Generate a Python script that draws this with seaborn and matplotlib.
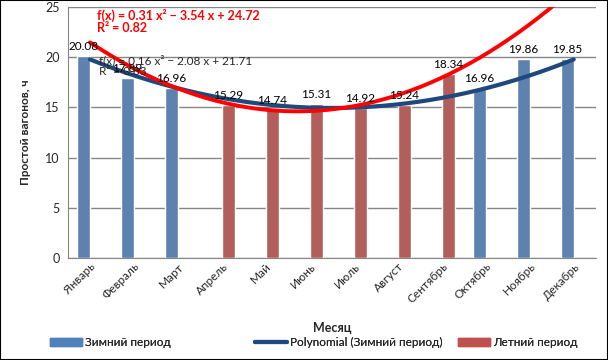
import numpy as np
import pandas as pd
import matplotlib
matplotlib.use("Agg")
import matplotlib.pyplot as plt
import seaborn as sns
from matplotlib.patches import Patch, Rectangle
from matplotlib.lines import Line2D

months = ["Январь", "Февраль", "Март", "Апрель", "Май", "Июнь",
          "Июль", "Август", "Сентябрь", "Октябрь", "Ноябрь", "Декабрь"]
values = [20.08, 17.89, 16.96, 15.29, 14.74, 15.31,
          14.92, 15.24, 18.34, 16.96, 19.86, 19.85]
periods = ["Зимний период"] * 3 + ["Летний период"] * 6 + ["Зимний период"] * 3
period_order = ["Зимний период", "Летний период"]

# trendline coefficients as shown on the chart
winter_coef = [0.16, -2.08, 21.71]
summer_coef = [0.31, -3.54, 24.72]

if __name__ == "__main__":
    sns.set_style("white")
    plt.rcParams['font.family'] = ['Lato', 'DejaVu Sans']

    blue = "#4F81BD"
    red = "#C0504D"
    navy = "#1F497D"

    df = pd.DataFrame({"month": months, "value": values, "period": periods})

    fig = plt.figure(figsize=(6.08, 3.6), dpi=100)
    ax = fig.add_axes([0.1118, 0.2833, 0.868, 0.697])

    sns.barplot(data=df, x="month", y="value", hue="period", hue_order=period_order,
                dodge=True, palette={"Зимний период": blue, "Летний период": red},
                width=0.6, ax=ax, legend=False, zorder=2)

    # data labels above each bar
    offs = {"Зимний период": -0.15, "Летний период": 0.15}
    for idx, (v, p) in enumerate(zip(values, periods)):
        ax.text(idx + offs[p], v + 0.4, f"{v:.2f}", ha="center", va="bottom",
                fontsize=8.5, color="black", zorder=5)

    xs = np.linspace(1, 12, 200)
    ax.plot(xs - 1, np.polyval(winter_coef, xs), color=navy, lw=3, zorder=3)
    ax.plot(xs - 1, np.polyval(summer_coef, xs), color="red", lw=2.8, zorder=4)

    ax.text(0.2, 20.3, "f(x) = 0.16 x² − 2.08 x + 21.71\nR² = 0.83", fontsize=8.5,
            ha="left", va="top", linespacing=0.95, zorder=6)
    ax.text(0.17, 24.8, "f(x) = 0.31 x² − 3.54 x + 24.72\nR² = 0.82", fontsize=9,
            fontweight="bold", color="red", ha="left", va="top", linespacing=1.0, zorder=6)

    ax.set_ylim(0, 25)
    ax.set_xlim(-0.5, 11.5)
    ax.set_yticks([0, 5, 10, 15, 20, 25])
    ax.yaxis.grid(True, color="#868686", lw=1)
    ax.set_axisbelow(True)
    for s in ["top", "right"]:
        ax.spines[s].set_visible(False)
    for s in ["left", "bottom"]:
        ax.spines[s].set_color("#868686")
    ax.tick_params(axis="y", labelsize=9, length=0, pad=6)
    ax.tick_params(axis="x", labelsize=8.5, length=0, pad=2)
    plt.setp(ax.get_xticklabels(), rotation=45, ha="right", rotation_mode="anchor")
    ax.set_ylabel("Простой вагонов, ч", fontsize=8.5, fontweight="bold", labelpad=10)
    ax.set_xlabel("Месяц", fontsize=9, fontweight="bold", labelpad=12)

    # legend entries sit in equal-width slots, like the original
    handles = [Patch(color=blue), Line2D([], [], color=navy, lw=3), Patch(color=red)]
    labels = ["Зимний период", "Polynomial (Зимний период)", "Летний период"]
    xpos = [50 / 608, 255 / 608, 458 / 608]
    for h, l, x in zip(handles, labels, xpos):
        leg = fig.legend([h], [l], loc="lower left", bbox_to_anchor=(x, 0.033),
                         frameon=False, fontsize=8.5, borderpad=0, borderaxespad=0,
                         handlelength=2.7, handletextpad=0.3)
        fig.add_artist(leg)

    fig.add_artist(Rectangle((0, 0), 1, 1, transform=fig.transFigure, fill=False,
                             edgecolor="black", lw=1.5))

    plt.savefig("out.png", dpi=100)
